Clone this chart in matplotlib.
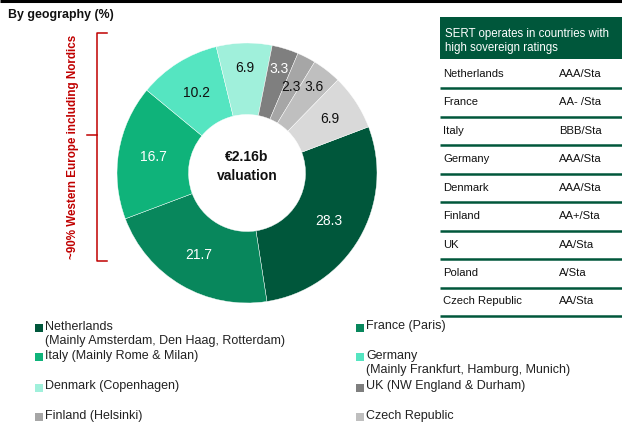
import matplotlib.pyplot as plt
import numpy as np

plt.rcParams['font.family'] = ['Liberation Sans', 'DejaVu Sans']

W, H = 622, 428

# pie data, clockwise from Netherlands
shares = [28.3, 21.7, 16.7, 10.2, 6.9, 3.3, 2.3, 3.6, 6.9]
colors = ['#00573b', '#08875c', '#0fb37a', '#55e5c1', '#a0f0db',
          '#7f7f7f', '#a6a6a6', '#bfbfbf', '#d9d9d9']
text_colors = ['white', 'white', 'white', '#111111', '#111111',
               'white', '#111111', '#111111', '#111111']
label_r = [0.73, 0.73, 0.73, 0.73, 0.81, 0.84, 0.74, 0.84, 0.76]

legend_labels = ['Netherlands\n(Mainly Amsterdam, Den Haag, Rotterdam)',
                 'France (Paris)',
                 'Italy (Mainly Rome & Milan)',
                 'Germany\n(Mainly Frankfurt, Hamburg, Munich)',
                 'Denmark (Copenhagen)',
                 'UK (NW England & Durham)',
                 'Finland (Helsinki)',
                 'Czech Republic']

table_title = 'SERT operates in countries with\nhigh sovereign ratings'
table_countries = ['Netherlands', 'France', 'Italy', 'Germany', 'Denmark',
                   'Finland', 'UK', 'Poland', 'Czech Republic']
table_ratings = ['AAA/Sta', 'AA- /Sta', 'BBB/Sta', 'AAA/Sta', 'AAA/Sta',
                 'AA+/Sta', 'AA/Sta', 'A/Sta', 'AA/Sta']

green = '#00573b'
red = '#c00000'

fig = plt.figure(figsize=(W / 100, H / 100), dpi=100)

# background axes in pixel coords
bg = fig.add_axes([0, 0, 1, 1])
bg.set_xlim(0, W)
bg.set_ylim(H, 0)
bg.axis('off')

bg.plot([0, W], [1, 1], color='black', lw=2.2, solid_capstyle='butt')
bg.text(8, 15, 'By geography (%)', fontsize=8.9, fontweight='bold',
        va='center', ha='left', color='#111111')

# bracket
bg.plot([107, 97, 97, 107], [33, 33, 261, 261], color=red, lw=1.1)
bg.plot([97, 87], [135, 135], color=red, lw=1.1)
bg.text(73, 147, '~90% Western Europe including Nordics', rotation=90,
        color=red, fontsize=8.4, fontweight='bold', ha='center', va='center')

# table
bg.add_patch(plt.Rectangle((440, 17), W - 440, 42, color=green, lw=0))
bg.text(445, 41, table_title, color='white', fontsize=8.3, va='center',
        ha='left', linespacing=1.15)
for i, (c, r) in enumerate(zip(table_countries, table_ratings)):
    yl = 88 + 28.5 * i
    bg.text(443, yl - 14.5, c, fontsize=8.1, va='center', ha='left', color='#111111')
    bg.text(559, yl - 14.5, r, fontsize=8.1, va='center', ha='left', color='#111111')
    bg.plot([440, W], [yl, yl], color=green, lw=1.8, solid_capstyle='butt')

# legend
rows_y = [328, 357, 388, 417]
cols_x = [36, 357]
for i, lab in enumerate(legend_labels):
    x = cols_x[i % 2]
    y = rows_y[i // 2]
    bg.scatter([x + 3], [y], marker='s', s=26, color=colors[i], lw=0)
    bg.text(x + 9, y - 7.5, lab, fontsize=9, va='top', ha='left',
            color='#222222', linespacing=1.3)

# donut
cx, cy, R = 247, 173, 130
ax = fig.add_axes([(cx - R) / W, 1 - (cy + R) / H, 2 * R / W, 2 * R / H])
wedges, _ = ax.pie(shares, colors=colors, startangle=20.8, counterclock=False,
                   radius=1, wedgeprops=dict(width=0.55, edgecolor='white', linewidth=0.3))
ax.set_xlim(-1, 1)
ax.set_ylim(-1, 1)
ax.set_aspect('equal')
ax.axis('off')

for w, v, tc, rr in zip(wedges, shares, text_colors, label_r):
    a = np.deg2rad((w.theta1 + w.theta2) / 2)
    ax.text(rr * np.cos(a), rr * np.sin(a), f'{v:.1f}', color=tc, fontsize=10,
            ha='center', va='center')

ax.text(0, 0.12, '€2.16b', fontsize=10, fontweight='bold', ha='center', va='center', color='#111111')
ax.text(0, -0.02, 'valuation', fontsize=10, fontweight='bold', ha='center', va='center', color='#111111')

fig.savefig('out.png', dpi=100)
